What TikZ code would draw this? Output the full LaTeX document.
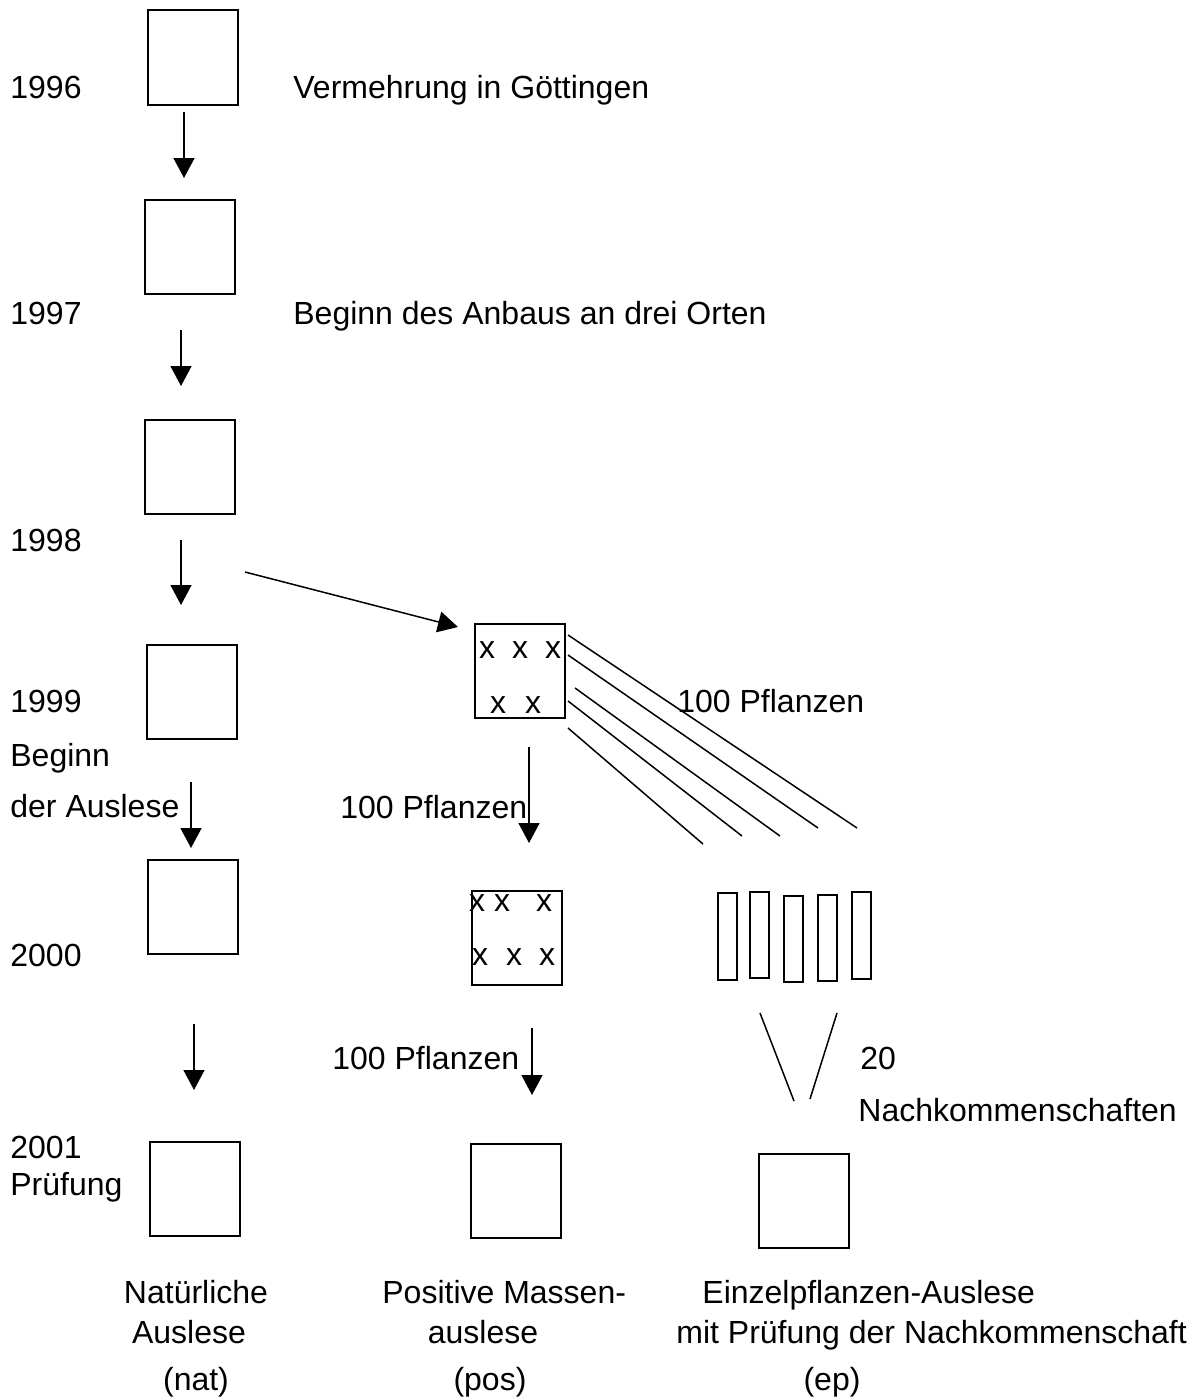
\documentclass[tikz,border=0pt]{standalone}
\usepackage{fontspec}
\setmainfont{Liberation Sans}
\usetikzlibrary{arrows.meta}

\begin{document}
\begin{tikzpicture}[
  x=0.5pt,y=-0.5pt,
  font=\fontsize{16}{19}\selectfont,
  box/.style={draw,line width=1pt,minimum width=45pt,minimum height=47pt,inner sep=0pt},
  bar/.style={draw,line width=1pt,minimum width=9.5pt,minimum height=43pt,inner sep=0pt},
  lbl/.style={anchor=base west,inner sep=0pt},
  ctr/.style={anchor=base,inner sep=0pt},
  cross/.style={inner sep=0pt},
  arr/.style={-{Triangle[length=10pt,width=10.5pt]},line width=0.75pt},
  ln/.style={line width=0.75pt},
]
\useasboundingbox (0,0) rectangle (1201,1398);

% years and notes on the left
\node[lbl] (y96) at (10,98) {1996};
\node[lbl] (t96) at (293,98) {Vermehrung in Göttingen};
\node[lbl] (y97) at (10,324) {1997};
\node[lbl] (t97) at (293,324) {Beginn des Anbaus an drei Orten};
\node[lbl] (y98) at (10,551) {1998};
\node[lbl] (y99) at (10,712) {1999};
\node[lbl] (beg) at (10,766) {Beginn};
\node[lbl] (ausl) at (10,817) {der Auslese};
\node[lbl] (y00) at (10,966) {2000};
\node[lbl] (y01) at (10,1158) {2001};
\node[lbl] (pruef) at (10,1195) {Prüfung};

% natural selection column
\node[box,minimum height=47.5pt] (b96) at (193,57.5) {};
\node[box] (b97) at (190,247) {};
\node[box] (b98) at (190,467) {};
\node[box] (b99) at (192,692) {};
\node[box] (b00) at (192.5,907) {};
\node[box] (b01) at (194.5,1188.5) {};

\coordinate (a1s) at (184,112);  \coordinate (a1e) at (184,178);
\coordinate (a2s) at (181,330);  \coordinate (a2e) at (181,386);
\coordinate (a3s) at (181,540);  \coordinate (a3e) at (181,605);
\coordinate (a4s) at (191,782);  \coordinate (a4e) at (191,848);
\coordinate (a5s) at (194,1024); \coordinate (a5e) at (194,1090);
\draw[arr] (a1s) -- (a1e);
\draw[arr] (a2s) -- (a2e);
\draw[arr] (a3s) -- (a3e);
\draw[arr] (a4s) -- (a4e);
\draw[arr] (a5s) -- (a5e);

% mass selection column
\node[box] (p99) at (519.5,671) {};
\node[cross] (xa1) at (487,650) {x};
\node[cross] (xa2) at (520,650) {x};
\node[cross] (xa3) at (553,650) {x};
\node[cross] (xa4) at (498,705) {x};
\node[cross] (xa5) at (533,705) {x};

\node[box] (p00) at (516.5,937.5) {};
\node[cross] (xb1) at (477,903) {x};
\node[cross] (xb2) at (502,903) {x};
\node[cross] (xb3) at (544,903) {x};
\node[cross] (xb4) at (480,957) {x};
\node[cross] (xb5) at (514,957) {x};
\node[cross] (xb6) at (547,957) {x};

\node[box] (p01) at (515.5,1190.5) {};

\coordinate (d1s) at (245,572); \coordinate (d1e) at (458,627);
\draw[arr] (d1s) -- (d1e);

\coordinate (m1s) at (529,747);  \coordinate (m1e) at (529,843);
\coordinate (m2s) at (532,1028); \coordinate (m2e) at (532,1095);
\draw[arr] (m1s) -- (m1e);
\draw[arr] (m2s) -- (m2e);
\node[lbl] (pfl2) at (340,818) {100 Pflanzen};
\node[lbl] (pfl3) at (332,1069) {100 Pflanzen};

% single plant selection
\coordinate (f1s) at (568,635); \coordinate (f1e) at (857,828);
\coordinate (f2s) at (568,655); \coordinate (f2e) at (818,828);
\coordinate (f3s) at (575,688); \coordinate (f3e) at (780,836);
\coordinate (f4s) at (568,701); \coordinate (f4e) at (742,836);
\coordinate (f5s) at (568,728); \coordinate (f5e) at (703,844);
\draw[ln] (f1s) -- (f1e);
\draw[ln] (f2s) -- (f2e);
\draw[ln] (f3s) -- (f3e);
\draw[ln] (f4s) -- (f4e);
\draw[ln] (f5s) -- (f5e);
\node[lbl] (pfl1) at (677,712) {100 Pflanzen};

\node[bar,minimum height=43.5pt] (r1) at (727.5,936.5) {};
\node[bar] (r2) at (759.5,935) {};
\node[bar] (r3) at (793.5,939) {};
\node[bar] (r4) at (827,938) {};
\node[bar,minimum height=43.5pt] (r5) at (861,935.5) {};

\coordinate (v1s) at (760,1013); \coordinate (v1e) at (794,1101);
\coordinate (v2s) at (837,1013); \coordinate (v2e) at (810,1099);
\draw[ln] (v1s) -- (v1e);
\draw[ln] (v2s) -- (v2e);
\node[lbl] (nk1) at (860,1069) {20};
\node[lbl] (nk2) at (858,1121) {Nachkommenschaften};

\node[box] (e01) at (804,1200.5) {};

% captions
\node[ctr] (nat1) at (196,1303) {Natürliche};
\node[ctr] (nat2) at (189,1343) {Auslese};
\node[ctr] (nat3) at (196,1390) {(nat)};
\node[lbl] (pos1) at (382,1303) {Positive Massen-};
\node[ctr] (pos2) at (483,1343) {auslese};
\node[ctr] (pos3) at (490,1390) {(pos)};
\node[lbl] (ep1) at (702,1303) {Einzelpflanzen-Auslese};
\node[lbl] (ep2) at (676,1343) {mit Prüfung der Nachkommenschaft};
\node[ctr] (ep3) at (832,1390) {(ep)};
\end{tikzpicture}
\end{document}
